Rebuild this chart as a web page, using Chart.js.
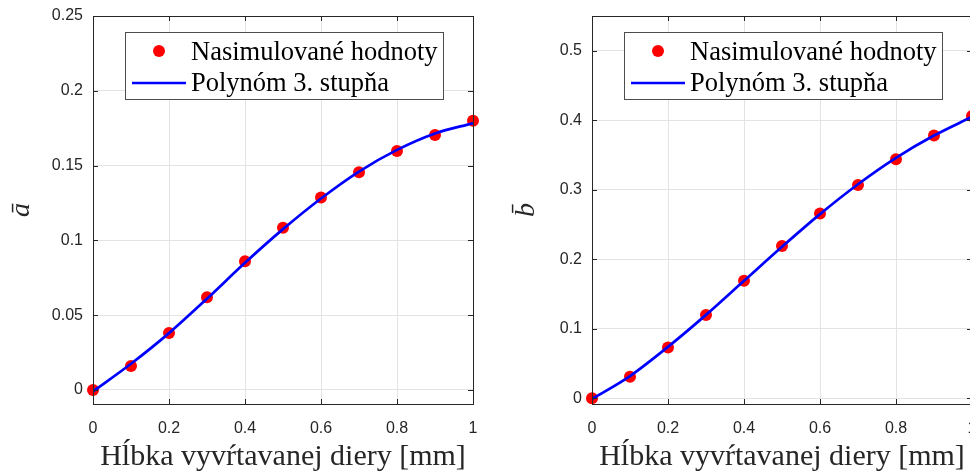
<!DOCTYPE html>
<html>
<head>
<meta charset="utf-8">
<script src="https://cdn.jsdelivr.net/npm/chart.js@4.4.0/dist/chart.umd.min.js"></script>
<style>
  html, body { margin: 0; padding: 0; background: #fff; overflow: hidden; width: 970px; height: 472px; }
  .wrap { position: absolute; top: 0; width: 485px; height: 472px; }
  #wrapA { left: 0; }
  #wrapB { left: 499px; }
</style>
</head>
<body>
<div class="wrap" id="wrapA"><canvas id="chartA" width="485" height="472"></canvas></div>
<div class="wrap" id="wrapB"><canvas id="chartB" width="485" height="472"></canvas></div>
<script>
// hĺbka vyvŕtavanej diery [mm]
const depth = [0, 0.1, 0.2, 0.3, 0.4, 0.5, 0.6, 0.7, 0.8, 0.9, 1];

// koeficient a
const simA  = [0, 0.016, 0.038, 0.062, 0.086, 0.1085, 0.1286, 0.1455, 0.1598, 0.1705, 0.180];
const polyA = [-0.001, 0.0175, 0.038, 0.061, 0.085, 0.1075, 0.128, 0.146, 0.1605, 0.1715, 0.1783];

// koeficient b
const simB  = [0, 0.031, 0.073, 0.120, 0.169, 0.219, 0.266, 0.307, 0.344, 0.378, 0.406];
const polyB = [-0.001, 0.032, 0.074, 0.120, 0.169, 0.218, 0.265, 0.308, 0.346, 0.378, 0.405];

const xTicks  = [0, 0.2, 0.4, 0.6, 0.8, 1];
const yTicksA = [0, 0.05, 0.1, 0.15, 0.2, 0.25];
const yTicksB = [0, 0.1, 0.2, 0.3, 0.4, 0.5];

const legendLabels = ["Nasimulované hodnoty", "Polynóm 3. stupňa"];
const xTitle = "Hĺbka vyvŕtavanej diery [mm]";

const axisColor = "#262626";
const gridColor = "#e3e3e3";
const serif = '"Liberation Serif", "Times New Roman", serif';
const sans = '"Liberation Sans", Arial, Helvetica, sans-serif';

// rámik osí, ticky dovnútra a legenda ako v MATLABe
const axesBox = {
  id: "axesBox",
  afterDatasetsDraw(chart) {
    const { ctx, chartArea: a, scales: { x, y } } = chart;
    const tl = 5;
    ctx.save();
    ctx.strokeStyle = axisColor;
    ctx.lineWidth = 1;
    ctx.beginPath();
    x.ticks.forEach(t => {
      const px = Math.round(x.getPixelForValue(t.value)) + 0.5;
      ctx.moveTo(px, a.bottom); ctx.lineTo(px, a.bottom - tl);
      ctx.moveTo(px, a.top); ctx.lineTo(px, a.top + tl);
    });
    y.ticks.forEach(t => {
      const py = Math.round(y.getPixelForValue(t.value)) + 0.5;
      ctx.moveTo(a.left, py); ctx.lineTo(a.left + tl, py);
      ctx.moveTo(a.right, py); ctx.lineTo(a.right - tl, py);
    });
    ctx.stroke();
    ctx.strokeRect(Math.round(a.left) + 0.5, Math.round(a.top) + 0.5,
                   Math.round(a.right - a.left), Math.round(a.bottom - a.top));

    // legenda
    const ds = chart.data.datasets;
    const bx = a.left + 32, by = a.top + 16, bw = 318, bh = 67;
    ctx.fillStyle = "#fff";
    ctx.fillRect(bx, by, bw, bh);
    ctx.strokeStyle = "#4d4d4d";
    ctx.strokeRect(bx + 0.5, by + 0.5, bw, bh);
    ctx.fillStyle = ds[0].backgroundColor;
    ctx.beginPath();
    ctx.arc(bx + 34, by + 19, 6, 0, 2 * Math.PI);
    ctx.fill();
    ctx.strokeStyle = ds[1].borderColor;
    ctx.lineWidth = ds[1].borderWidth;
    ctx.beginPath();
    ctx.moveTo(bx + 7, by + 51);
    ctx.lineTo(bx + 61, by + 51);
    ctx.stroke();
    ctx.fillStyle = "#000";
    ctx.font = "26.5px " + serif;
    ctx.textAlign = "left";
    ctx.textBaseline = "alphabetic";
    ctx.fillText(ds[0].label, bx + 66, by + 28);
    ctx.fillText(ds[1].label, bx + 66, by + 59);
    ctx.restore();
  }
};

function makeChart(id, sim, poly, yTicks, yMin, yMax, yTitle, yTitlePad) {
  return new Chart(document.getElementById(id), {
    type: "scatter",
    data: {
      datasets: [
        {
          label: legendLabels[0],
          data: depth.map((d, i) => ({ x: d, y: sim[i] })),
          backgroundColor: "#ff0000",
          borderColor: "#ff0000",
          pointRadius: 6,
          pointBorderWidth: 0,
          showLine: false,
          clip: false,
          order: 2
        },
        {
          label: legendLabels[1],
          data: depth.map((d, i) => ({ x: d, y: poly[i] })),
          borderColor: "#0000ff",
          borderWidth: 2.7,
          pointRadius: 0,
          showLine: true,
          cubicInterpolationMode: "monotone",
          order: 1
        }
      ]
    },
    options: {
      responsive: false,
      animation: false,
      devicePixelRatio: 1,
      // plocha grafu: 93..473 x 16..404
      layout: { padding: { left: 0, right: 12, top: 16, bottom: 0 } },
      plugins: { legend: { display: false }, tooltip: { enabled: false } },
      scales: {
        x: {
          type: "linear",
          min: 0,
          max: 1,
          afterBuildTicks: s => { s.ticks = xTicks.map(v => ({ value: v })); },
          afterFit: s => { s.height = 68; s.paddingLeft = 0; s.paddingRight = 0; },
          grid: { color: gridColor, drawTicks: false },
          border: { display: false },
          ticks: { color: axisColor, font: { family: sans, size: 16 }, padding: 15, callback: v => String(v) },
          title: { display: true, text: xTitle, color: axisColor,
                   font: { family: serif, size: 30, lineHeight: 1 }, padding: { top: 0, bottom: 0 } }
        },
        y: {
          type: "linear",
          min: yMin,
          max: yMax,
          afterBuildTicks: s => { s.ticks = yTicks.map(v => ({ value: v })); },
          afterFit: s => { s.width = 93; s.paddingTop = 0; s.paddingBottom = 0; },
          grid: { color: gridColor, drawTicks: false },
          border: { display: false },
          ticks: { color: axisColor, font: { family: sans, size: 16 }, padding: 10, callback: v => String(v) },
          title: { display: true, text: yTitle, color: axisColor,
                   font: { family: serif, size: 28, style: "italic", lineHeight: 1 }, padding: { top: yTitlePad, bottom: 0 } }
        }
      }
    },
    plugins: [axesBox]
  });
}

makeChart("chartA", simA, polyA, yTicksA, -0.0094, 0.25, "ā", 8);
makeChart("chartB", simB, polyB, yTicksB, -0.0082, 0.55, "b\u0304", 14);
</script>
</body>
</html>
